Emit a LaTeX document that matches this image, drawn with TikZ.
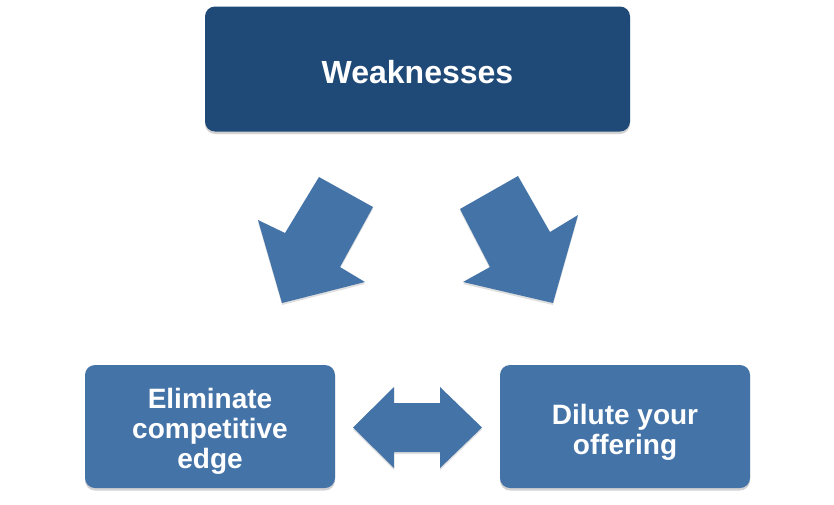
\documentclass[tikz,border=0pt]{standalone}
\usepackage{fontspec}
\setmainfont{Liberation Sans}
\usetikzlibrary{shadows}
\definecolor{topblue}{RGB}{31,74,120}
\definecolor{midblue}{RGB}{68,115,168}
\tikzset{
  box/.style={draw=none, rounded corners=10pt, inner sep=0pt,
    drop shadow={opacity=0.35, shadow xshift=0pt, shadow yshift=-2.5pt}},
  boxtext/.style={text=white, align=center, inner sep=0pt,
    font=\fontsize{28}{30}\selectfont\bfseries},
  blockarrow/.style={fill=midblue, draw=none,
    drop shadow={opacity=0.25, shadow xshift=0pt, shadow yshift=-2pt}}
}
\begin{document}
\begin{tikzpicture}[x=1pt,y=-1pt]
\useasboundingbox[fill=white] (0,0) rectangle (834,504);
% boxes
\node[box, fill=topblue, minimum width=425pt, minimum height=125pt] (weak) at (417.5,69) {};
\node[boxtext, font=\fontsize{32}{34}\selectfont\bfseries] (weaktxt) at ([yshift=-3pt]weak.center) {Weaknesses};
\node[box, fill=midblue, minimum width=250pt, minimum height=123pt] (elim) at (210,426.5) {};
\node[boxtext] (elimtxt) at ([yshift=-5pt]elim.center) {Eliminate\\competitive\\edge};
\node[box, fill=midblue, minimum width=250pt, minimum height=123pt] (dilu) at (625,426.5) {};
\node[boxtext] (dilutxt) at ([yshift=-6pt]dilu.center) {Dilute your\\offering};
% left down arrow
\coordinate (la1) at (319,177);
\coordinate (la2) at (373,207);
\coordinate (la3) at (340,267);
\coordinate (la4) at (365,282);
\coordinate (la5) at (282,303);
\coordinate (la6) at (258,220);
\coordinate (la7) at (285,233);
\fill[blockarrow] (la1) -- (la2) -- (la3) -- (la4) -- (la5) -- (la6) -- (la7) -- cycle;
% right down arrow
\coordinate (ra1) at (518,176);
\coordinate (ra2) at (460,209);
\coordinate (ra3) at (490,267);
\coordinate (ra4) at (463,282);
\coordinate (ra5) at (553,303);
\coordinate (ra6) at (578,215);
\coordinate (ra7) at (550,232);
\fill[blockarrow] (ra1) -- (ra2) -- (ra3) -- (ra4) -- (ra5) -- (ra6) -- (ra7) -- cycle;
% double arrow
\coordinate (dl) at (353,427.5);
\coordinate (dr) at (482,427.5);
\fill[blockarrow] (dl) -- (394,387) -- (394,403) -- (440,403) -- (440,387) -- (dr)
  -- (440,468) -- (440,452) -- (394,452) -- (394,468) -- cycle;
\end{tikzpicture}
\end{document}
